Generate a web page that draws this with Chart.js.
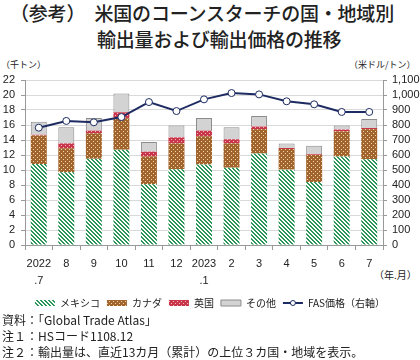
<!DOCTYPE html>
<html lang="ja">
<head>
  <meta charset="UTF-8">
  <title>米国のコーンスターチの国・地域別輸出量および輸出価格の推移</title>
  <script src="https://cdn.jsdelivr.net/npm/chart.js"></script>
  <style>
    body { margin: 0; width: 420px; height: 360px; background: #fff; position: relative; overflow: hidden;
      font-family: "Noto Sans CJK JP", "Noto Sans", sans-serif; color: #222; }
    .t { position: absolute; font-size: 19px; font-weight: 500; line-height: 26px; white-space: nowrap; letter-spacing: -0.2px; }
    .unit { position: absolute; font-size: 9px; white-space: nowrap; line-height: 12px; }
    .note { position: absolute; left: 2px; font-size: 12px; line-height: 16px; white-space: nowrap; }
    #wrap { position: absolute; left: 0; top: 60px; width: 420px; height: 258px; }
  </style>
</head>
<body>
  <div class="t" style="left:10px;top:0px">（参考）　米国のコーンスターチの国・地域別</div>
  <div class="t" style="left:97px;top:26px">輸出量および輸出価格の推移</div>
  <div class="unit" style="left:1px;top:59px">（千トン）</div>
  <div class="unit" style="left:349px;top:59px">（米ドル/トン）</div>
  <div class="unit" style="left:374px;top:269px;font-size:10px">（年.月）</div>

  <div id="wrap"><canvas id="chart"></canvas></div>

  <div class="note" style="top:312px">資料：「Global Trade Atlas」</div>
  <div class="note" style="top:328px">注１：HSコード1108.12</div>
  <div class="note" style="top:344px">注２：輸出量は、直近13カ月（累計）の上位３カ国・地域を表示。</div>

  <script>
    // 月ラベル
    const months = [['2022', '.7'], '8', '9', '10', '11', '12', ['2023', '.1'], '2', '3', '4', '5', '6', '7'];

    // 輸出量（千トン）
    const mexico = [10.8, 9.7, 11.5, 12.7, 8.1, 10.1, 10.75, 10.3, 12.2, 10.05, 8.4, 11.8, 11.45];
    const canada = [3.8, 3.2, 3.4, 4.2, 3.7, 3.45, 3.75, 3.25, 3.25, 2.75, 3.6, 3.35, 4.0];
    const uk = [0.1, 0.65, 0.35, 0.8, 0.65, 0.8, 0.75, 0.55, 0.35, 0.13, 0.1, 0.25, 0.15];
    const others = [1.75, 2.15, 1.7, 2.5, 1.3, 1.6, 1.7, 1.6, 1.4, 0.62, 1.15, 0.55, 1.2];

    // FAS価格（米ドル/トン）
    const fasPrice = [782, 827, 818, 853, 953, 893, 971, 1013, 1004, 958, 938, 887, 887];

    const navy = '#1d2b62';

    // 模様
    function stripes(fg, bg) {
      const c = document.createElement('canvas');
      c.width = 4; c.height = 4;
      const g = c.getContext('2d');
      g.fillStyle = bg; g.fillRect(0, 0, 4, 4);
      g.fillStyle = fg;
      for (let i = 0; i < 4; i++) {
        g.fillRect(i, i, 1, 1);
        g.fillRect((i + 1) % 4, i, 1, 1);
      }
      return g.createPattern(c, 'repeat');
    }
    function dots(fg, bg) {
      const c = document.createElement('canvas');
      c.width = 4; c.height = 4;
      const g = c.getContext('2d');
      g.fillStyle = bg; g.fillRect(0, 0, 4, 4);
      g.fillStyle = fg;
      g.fillRect(1, 1, 1, 1);
      g.fillRect(3, 3, 1, 1);
      return g.createPattern(c, 'repeat');
    }

    // 凡例の線に○マーカーを描く
    const legendMarker = {
      id: 'legendMarker',
      afterDraw(chart) {
        const lg = chart.legend;
        if (!lg || !lg.legendHitBoxes) return;
        const i = lg.legendItems.findIndex(it => it.datasetIndex === 4);
        const box = lg.legendHitBoxes[i];
        if (!box) return;
        const ctx = chart.ctx;
        ctx.save();
        ctx.beginPath();
        ctx.arc(box.left + 10, box.top + box.height / 2, 2.5, 0, Math.PI * 2);
        ctx.fillStyle = '#fff';
        ctx.fill();
        ctx.lineWidth = 1;
        ctx.strokeStyle = navy;
        ctx.stroke();
        ctx.restore();
      }
    };

    const tickFont = { family: '"Liberation Sans", Arial, sans-serif', size: 11 };

    new Chart(document.getElementById('chart'), {
      type: 'bar',
      data: {
        labels: months,
        datasets: [
          { label: 'メキシコ', data: mexico, backgroundColor: stripes('#2c9659', '#ffffff'), borderWidth: 0, order: 1 },
          { label: 'カナダ', data: canada, backgroundColor: dots('#f3d6ae', '#a2642d'), borderWidth: 0, order: 1 },
          { label: '英国', data: uk, backgroundColor: dots('#f4b8c2', '#c93549'), borderWidth: 0, order: 1 },
          { label: 'その他', data: others, backgroundColor: '#d3d3d3', borderColor: '#8c8c8c', borderWidth: 1, order: 1 },
          {
            type: 'line', label: 'FAS価格（右軸）', data: fasPrice, yAxisID: 'y1', order: 0,
            borderColor: navy, borderWidth: 2, tension: 0,
            pointRadius: 3.5, pointBackgroundColor: '#ffffff', pointBorderColor: navy, pointBorderWidth: 1,
            backgroundColor: navy
          }
        ]
      },
      options: {
        responsive: true,
        maintainAspectRatio: false,
        animation: false,
        layout: { padding: { top: 20, left: 0, right: 0, bottom: 0 } },
        datasets: { bar: { categoryPercentage: 1, barPercentage: 0.58 } },
        plugins: {
          tooltip: { enabled: false },
          legend: {
            position: 'bottom',
            labels: {
              usePointStyle: true,
              pointStyleWidth: 20,
              boxHeight: 6,
              padding: 7,
              color: '#222',
              font: { family: '"Noto Sans CJK JP", sans-serif', size: 10 },
              sort: (a, b) => a.datasetIndex - b.datasetIndex,
              generateLabels: chart => {
                const items = Chart.defaults.plugins.legend.labels.generateLabels(chart);
                items.forEach(it => {
                  it.pointStyle = it.datasetIndex === 4 ? 'line' : 'rect';
                  if (it.datasetIndex === 4) it.lineWidth = 2;
                });
                return items;
              }
            }
          }
        },
        scales: {
          x: {
            stacked: true,
            afterFit: s => { s.height = 46; },
            grid: { drawOnChartArea: false, drawTicks: true, tickLength: 5, color: '#999' },
            border: { color: '#999' },
            ticks: { color: '#222', font: Object.assign({}, tickFont, { lineHeight: 1.6 }), padding: 5, maxRotation: 0, autoSkip: false }
          },
          y: {
            stacked: true,
            min: 0, max: 22,
            afterFit: s => { s.width = 25; },
            ticks: { stepSize: 2, autoSkip: false, color: '#222', font: tickFont, padding: 6 },
            grid: { color: '#d9d9d9', tickLength: 4, tickColor: '#999' },
            border: { color: '#999' }
          },
          y1: {
            position: 'right',
            min: 0, max: 1100,
            afterFit: s => { s.width = 37; },
            ticks: { stepSize: 100, autoSkip: false, color: '#222', font: tickFont, padding: 5,
              callback: v => v.toLocaleString('en-US') },
            grid: { drawOnChartArea: false, tickLength: 4, color: '#999' },
            border: { color: '#999' }
          }
        }
      },
      plugins: [legendMarker]
    });
  </script>
</body>
</html>
